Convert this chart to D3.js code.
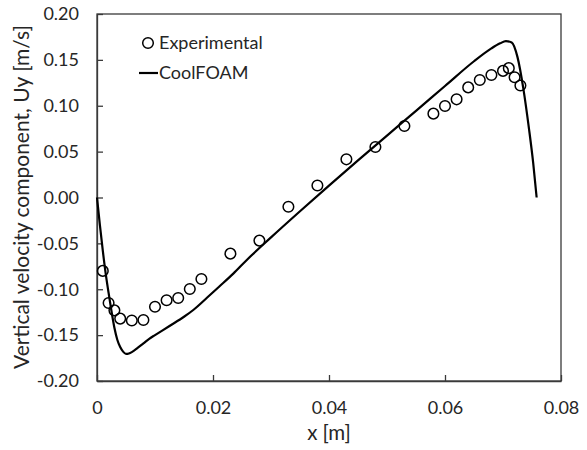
<!DOCTYPE html>
<html>
<head>
<meta charset="utf-8">
<script src="https://cdn.jsdelivr.net/npm/d3@7/dist/d3.min.js"></script>
<style>
  html, body { margin: 0; padding: 0; background: #fff; }
  svg text { font-family: Lato, "Open Sans", sans-serif; fill: #262626; }
</style>
</head>
<body>
<svg id="chart" width="587" height="450"></svg>
<script>
// Experimental data
const expX = [0.001, 0.002, 0.003, 0.004, 0.006, 0.008, 0.010, 0.012, 0.014, 0.016, 0.018, 0.023, 0.028,
              0.033, 0.038, 0.043, 0.048, 0.053, 0.058, 0.060, 0.062, 0.064, 0.066, 0.068, 0.070, 0.071, 0.072, 0.073];
const expY = [-0.080, -0.115, -0.123, -0.132, -0.134, -0.1335, -0.119, -0.112, -0.1095, -0.0997, -0.0888, -0.0612, -0.047,
              -0.010, 0.013, 0.0416, 0.055, 0.078, 0.0914, 0.0997, 0.107, 0.120, 0.128, 0.1335, 0.138, 0.141, 0.131, 0.122];

// CoolFOAM simulation
const simX = [0, 0.0005, 0.001, 0.0015, 0.002, 0.0025, 0.003, 0.0035, 0.004, 0.0045, 0.005, 0.0055, 0.006, 0.007, 0.008,
              0.009, 0.010, 0.0125, 0.015, 0.0166, 0.019, 0.021, 0.0235, 0.026, 0.030, 0.035, 0.040, 0.045, 0.050, 0.055,
              0.060, 0.065, 0.068, 0.0695, 0.0705, 0.0715, 0.0725, 0.0735, 0.0745, 0.0752, 0.0758];
const simY = [0, -0.030, -0.058, -0.083, -0.104, -0.124, -0.142, -0.155, -0.163, -0.168, -0.1705, -0.170, -0.1685, -0.164, -0.159,
              -0.154, -0.150, -0.140, -0.130, -0.1226, -0.109, -0.0975, -0.083, -0.067, -0.0435, -0.015, 0.013, 0.0405, 0.0675, 0.0945,
              0.1215, 0.1485, 0.1625, 0.168, 0.1705, 0.169, 0.153, 0.119, 0.074, 0.038, 0.0];

const xTicks = [0, 0.02, 0.04, 0.06, 0.08];
const xTickLabels = ["0", "0.02", "0.04", "0.06", "0.08"];
const yTicks = [-0.20, -0.15, -0.10, -0.05, 0.00, 0.05, 0.10, 0.15, 0.20];
const yTickLabels = ["-0.20", "-0.15", "-0.10", "-0.05", "0.00", "0.05", "0.10", "0.15", "0.20"];

const seriesNames = ["Experimental", "CoolFOAM"];
const xTitle = "x [m]";
const yTitle = "Vertical velocity component, Uy [m/s]";

const svg = d3.select("#chart");
const m = { left: 97, top: 14, right: 561, bottom: 381 };
const x = d3.scaleLinear().domain([0, 0.08]).range([m.left, m.right]);
const y = d3.scaleLinear().domain([-0.2, 0.2]).range([m.bottom, m.top]);
const axisColor = "#3a3a3a";

// frame (top and right)
svg.append("rect")
  .attr("x", m.left).attr("y", m.top)
  .attr("width", m.right - m.left).attr("height", m.bottom - m.top)
  .attr("fill", "none").attr("stroke", axisColor).attr("stroke-width", 1.3);

// x axis
const xAxis = d3.axisBottom(x).tickValues(xTicks)
  .tickFormat((d, i) => xTickLabels[i]).tickSizeInner(-6).tickSizeOuter(0).tickPadding(20);
const gx = svg.append("g").attr("transform", `translate(0,${m.bottom})`).call(xAxis);
gx.select(".domain").attr("stroke", axisColor).attr("stroke-width", 1.3);
gx.selectAll(".tick line").attr("stroke", axisColor).attr("stroke-width", 1.3);
gx.selectAll(".tick text").style("font-size", "18px").attr("fill", "#262626");

// y axis
const yAxis = d3.axisLeft(y).tickValues(yTicks)
  .tickFormat((d, i) => yTickLabels[i]).tickSizeInner(-6).tickSizeOuter(0).tickPadding(18);
const gy = svg.append("g").attr("transform", `translate(${m.left},0)`).call(yAxis);
gy.select(".domain").attr("stroke", axisColor).attr("stroke-width", 1.3);
gy.selectAll(".tick line").attr("stroke", axisColor).attr("stroke-width", 1.3);
gy.selectAll(".tick text").style("font-size", "18px").attr("fill", "#262626");

// titles
svg.append("text").attr("x", 329).attr("y", 440)
  .attr("text-anchor", "middle").style("font-size", "20.5px").text(xTitle);
svg.append("text").attr("transform", `translate(29,${197}) rotate(-90)`)
  .attr("text-anchor", "middle").style("font-size", "21px").text(yTitle);

// simulation line
const simData = simX.map((v, i) => [v, simY[i]]);
svg.append("path").datum(simData)
  .attr("fill", "none").attr("stroke", "#000").attr("stroke-width", 2.2)
  .attr("stroke-linejoin", "round")
  .attr("d", d3.line().x(d => x(d[0])).y(d => y(d[1])).curve(d3.curveMonotoneX));

// experimental points
const expData = expX.map((v, i) => [v, expY[i]]);
svg.append("g").selectAll("circle").data(expData).join("circle")
  .attr("cx", d => x(d[0])).attr("cy", d => y(d[1])).attr("r", 5.3)
  .attr("fill", "none").attr("stroke", "#000").attr("stroke-width", 1.5);

// legend
const lg = svg.append("g");
lg.append("circle").attr("cx", 148).attr("cy", 43).attr("r", 5.3)
  .attr("fill", "none").attr("stroke", "#000").attr("stroke-width", 1.5);
lg.append("text").attr("x", 159).attr("y", 43).attr("dy", "0.35em")
  .style("font-size", "18px").text(seriesNames[0]);
lg.append("line").attr("x1", 139).attr("x2", 158).attr("y1", 73).attr("y2", 73)
  .attr("stroke", "#000").attr("stroke-width", 2.2);
lg.append("text").attr("x", 159).attr("y", 73).attr("dy", "0.35em")
  .style("font-size", "18px").text(seriesNames[1]);
</script>
</body>
</html>
